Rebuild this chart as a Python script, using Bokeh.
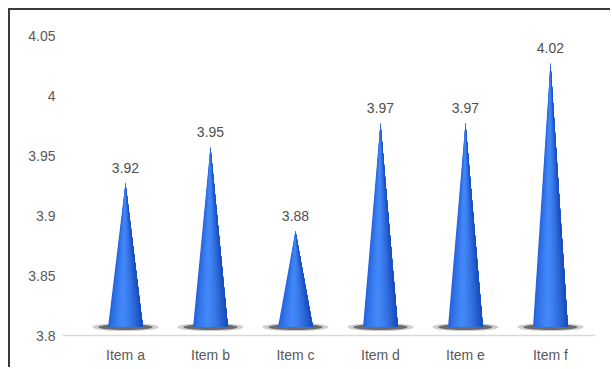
import numpy as np
from bokeh.plotting import figure
from bokeh.models import Range1d, FixedTicker, CustomJSTickFormatter, Span
from bokeh.core.properties import value
from bokeh.embed import file_html
from bokeh.resources import INLINE

# ---- data ----
categories = ["Item a", "Item b", "Item c", "Item d", "Item e", "Item f"]
values = [3.92, 3.95, 3.88, 3.97, 3.97, 4.02]
value_labels = ["3.92", "3.95", "3.88", "3.97", "3.97", "4.02"]
y_ticks = [3.8, 3.85, 3.9, 3.95, 4.0, 4.05]
y_base = 3.8

FONT = "Liberation Sans"

p = figure(width=602, height=359,
           x_range=Range1d(-0.741, 5.53), y_range=Range1d(3.795, 4.055),
           output_backend="svg", toolbar_location=None,
           min_border_left=52, min_border_right=17,
           min_border_top=19, min_border_bottom=28)
p.styles = {"margin-left": "8px", "margin-top": "8px",
            "border-left": "2px solid #3a3a3a", "border-top": "2px solid #3a3a3a"}
p.outline_line_color = None
p.background_fill_color = "white"
p.border_fill_color = "white"
p.xgrid.visible = False
p.ygrid.visible = False

idx = list(range(len(categories)))

# baseline (floor line)
p.add_layout(Span(location=y_base, dimension="width", line_color="#d9d9d9", line_width=1.5))

# 3D perspective offset of the floor and the cone half-width
depth = 0.007
hw = 0.205

# shadows under cones
p.ellipse(x=idx, y=[y_base + depth] * len(idx), width=0.78, height=8,
          height_units="screen", fill_color="#3a3a3a", fill_alpha=0.25, line_color=None)
p.ellipse(x=idx, y=[y_base + depth] * len(idx), width=0.64, height=6,
          height_units="screen", fill_color="#2a2a2a", fill_alpha=0.6, line_color=None)

# cones built from overlapping shading layers (each layer covers to the right edge)
N = 24
dark_l = np.array([0x1e, 0x5a, 0xd6])
light = np.array([0x42, 0x88, 0xf8])
dark_r = np.array([0x17, 0x48, 0xb8])
def shade(t):
    peak = 0.38
    if t < peak:
        a = (t / peak) ** 0.6
        c = dark_l + (light - dark_l) * a
    else:
        a = ((t - peak) / (1 - peak)) ** 1.6
        c = light + (dark_r - light) * a
    return "#%02x%02x%02x" % tuple(int(round(v)) for v in c)

xs, ys, cols = [], [], []
for i, v in zip(idx, values):
    for j in range(N):
        x0 = i - hw + 2 * hw * j / N
        x1 = i + hw
        xs.append([i, x0, x1])
        ys.append([v + depth, y_base + depth, y_base + depth])
        cols.append(shade((j + 0.5) / N))
p.patches(xs=xs, ys=ys, fill_color=cols, line_color=None)

# value labels
p.text(x=idx, y=[v + depth for v in values], text=value_labels,
       text_align="center", text_baseline="alphabetic", y_offset=-15,
       text_font=value(FONT), text_font_size="14px", text_color="#505050")

# axes
p.xaxis.ticker = FixedTicker(ticks=idx)
p.xaxis.major_label_overrides = {i: c for i, c in zip(idx, categories)}
p.xaxis.axis_line_color = None
p.xaxis.major_tick_line_color = None
p.xaxis.minor_tick_line_color = None
p.xaxis.major_tick_out = 0
p.xaxis.major_tick_in = 0
p.xaxis.major_label_standoff = 5
p.xaxis.major_label_text_font = FONT
p.xaxis.major_label_text_font_size = "14px"
p.xaxis.major_label_text_color = "#595959"

p.yaxis.ticker = FixedTicker(ticks=y_ticks)
p.yaxis.formatter = CustomJSTickFormatter(code="return tick.toFixed(2).replace(/\\.?0+$/, '');")
p.yaxis.axis_line_color = None
p.yaxis.major_tick_line_color = None
p.yaxis.minor_tick_line_color = None
p.yaxis.major_tick_out = 0
p.yaxis.major_tick_in = 0
p.yaxis.major_label_standoff = 7
p.yaxis.major_label_text_font = FONT
p.yaxis.major_label_text_font_size = "14px"
p.yaxis.major_label_text_color = "#595959"

open("out.html", "w").write(file_html(p, INLINE))
